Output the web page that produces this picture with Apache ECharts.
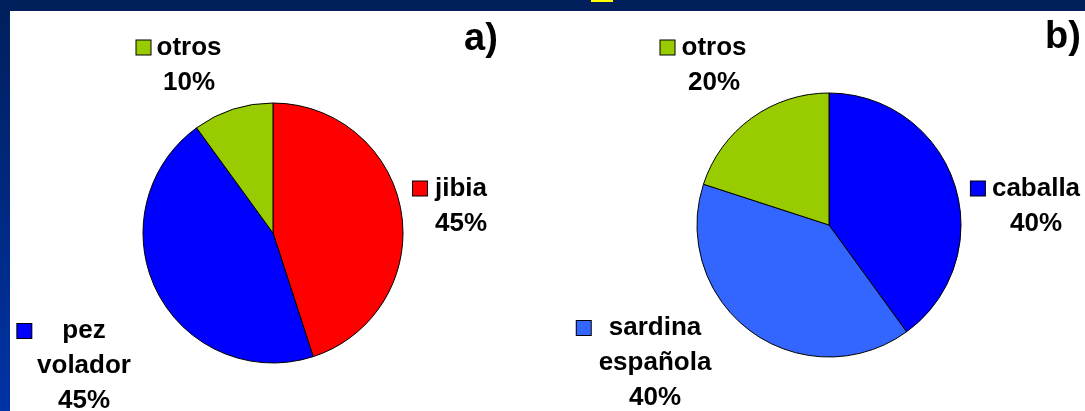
<!DOCTYPE html>
<html>
<head>
<meta charset="utf-8">
<title>Capturas</title>
<script src="https://cdn.jsdelivr.net/npm/echarts@6/dist/echarts.min.js"></script>
<style>
  html, body { margin: 0; padding: 0; background: #fff; }
</style>
</head>
<body>
<div id="main" style="width:1085px;height:411px;"></div>
<script type="text/javascript">
// datos de los dos graficos
var namesA = ['jibia', 'pez\nvolador', 'otros'];
var valuesA = [45, 45, 10];
var colorsA = ['#ff0000', '#0000ff', '#99cc00'];

var namesB = ['caballa', 'sardina\nespañola', 'otros'];
var valuesB = [40, 40, 20];
var colorsB = ['#0000ff', '#3366ff', '#99cc00'];

// donde va cada etiqueta (centro del bloque) y hueco entre cuadro y texto
var labelPosA = [[461, 206], [84, 366], [189, 65]];
var labelPosB = [[1036, 206], [655, 363], [714, 65]];
var keyGapA = [8, 31, 6];
var keyGapB = [7, 18, 7];

var FONT = '"Liberation Sans", Arial, sans-serif';

function buildData(names, values, colors, gaps) {
    return names.map(function (n, i) {
        var lines = n.split('\n');
        var text = '{key|}{gap|}' + lines[0] + '{pad|}';
        for (var k = 1; k < lines.length; k++) {
            text += '\n' + lines[k];
        }
        text += '\n' + values[i] + '%';
        return {
            name: n,
            value: values[i],
            itemStyle: { color: colors[i] },
            label: {
                formatter: text,
                rich: {
                    key: { width: 14, height: 14, backgroundColor: colors[i], borderColor: '#000', borderWidth: 1 },
                    gap: { width: gaps[i] },
                    pad: { width: gaps[i] + 14 }
                }
            }
        };
    });
}

function pieSeries(names, values, colors, gaps, pos, center, radius) {
    return {
        type: 'pie',
        center: center,
        radius: radius,
        startAngle: 90,
        clockwise: true,
        avoidLabelOverlap: false,
        itemStyle: { borderColor: '#000', borderWidth: 1 },
        label: {
            show: true,
            position: 'outside',
            color: '#000',
            fontFamily: FONT,
            fontWeight: 'bold',
            fontSize: 26,
            lineHeight: 35,
            align: 'center'
        },
        labelLine: { show: false },
        labelLayout: function (params) {
            var p = pos[params.dataIndex];
            return { x: p[0], y: p[1], align: 'center', verticalAlign: 'middle' };
        },
        emphasis: { disabled: true },
        data: buildData(names, values, colors, gaps)
    };
}

var myChart = echarts.init(document.getElementById('main'));

var option = {
    backgroundColor: '#ffffff',
    animation: false,
    title: [
        { text: 'a)', left: 459, top: 16, textStyle: { fontFamily: FONT, fontWeight: 'bold', fontSize: 38, color: '#000' } },
        { text: 'b)', left: 1040, top: 14, textStyle: { fontFamily: FONT, fontWeight: 'bold', fontSize: 38, color: '#000' } }
    ],
    graphic: [
        { type: 'rect', z: -10, shape: { x: 0, y: 0, width: 1085, height: 11 }, style: { fill: '#001f5b' } },
        { type: 'rect', z: -10, shape: { x: 0, y: 0, width: 10, height: 411 },
          style: { fill: new echarts.graphic.LinearGradient(0, 0, 0, 1, [
              { offset: 0, color: '#001f5b' }, { offset: 1, color: '#0033a6' }]) } },
        { type: 'rect', z: -9, shape: { x: 591, y: 0, width: 22, height: 2 }, style: { fill: '#ffff00' } }
    ],
    series: [
        pieSeries(namesA, valuesA, colorsA, keyGapA, labelPosA, [273, 233], 130),
        pieSeries(namesB, valuesB, colorsB, keyGapB, labelPosB, [829, 225], 132)
    ]
};

myChart.setOption(option);
</script>
</body>
</html>
